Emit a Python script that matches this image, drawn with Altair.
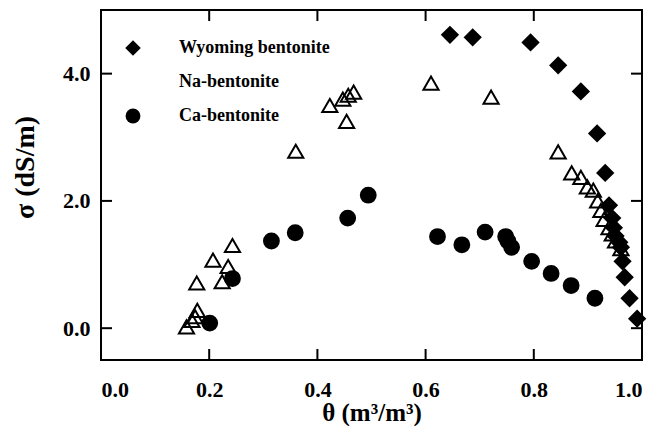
import altair as alt
import pandas as pd

series_names = ["Wyoming bentonite", "Na-bentonite", "Ca-bentonite"]

wy_theta = [0.645, 0.687, 0.794, 0.845, 0.887, 0.917, 0.932, 0.939, 0.945, 0.948,
            0.951, 0.958, 0.961, 0.964, 0.968, 0.977, 0.991]
wy_sigma = [4.61, 4.57, 4.49, 4.13, 3.72, 3.06, 2.44, 1.93, 1.73, 1.58,
            1.45, 1.35, 1.27, 1.05, 0.80, 0.47, 0.15]

na_theta = [0.158, 0.168, 0.174, 0.178, 0.177, 0.207, 0.224, 0.235, 0.243, 0.360,
            0.423, 0.447, 0.457, 0.467, 0.454, 0.610, 0.721, 0.845, 0.870, 0.887,
            0.899, 0.910, 0.918, 0.924, 0.930, 0.939, 0.945, 0.951, 0.961]
na_sigma = [0.02, 0.12, 0.18, 0.28, 0.71, 1.07, 0.73, 0.97, 1.30, 2.78,
            3.50, 3.60, 3.66, 3.71, 3.25, 3.85, 3.63, 2.77, 2.44, 2.37,
            2.22, 2.17, 2.00, 1.85, 1.71, 1.58, 1.48, 1.37, 1.25]

ca_theta = [0.201, 0.243, 0.315, 0.359, 0.456, 0.494, 0.622, 0.667, 0.710, 0.748,
            0.752, 0.759, 0.796, 0.832, 0.869, 0.913]
ca_sigma = [0.08, 0.78, 1.37, 1.50, 1.73, 2.09, 1.44, 1.31, 1.51, 1.44,
            1.37, 1.27, 1.05, 0.86, 0.67, 0.47]

x_label_values = [0.0, 0.2, 0.4, 0.6, 0.8, 1.0]
x_tick_values = [0.2, 0.4, 0.6, 0.8]
y_tick_values = [0.0, 2.0, 4.0]

rows = []
for name, xs_, ys_ in [(series_names[0], wy_theta, wy_sigma),
                       (series_names[1], na_theta, na_sigma),
                       (series_names[2], ca_theta, ca_sigma)]:
    for a, b in zip(xs_, ys_):
        rows.append({"theta": a, "sigma": b, "series": name})
df = pd.DataFrame(rows)

W, H = 541, 350
FONT = "Liberation Serif"
TICK = 11

xscale = alt.Scale(domain=[0, 1], nice=False, zero=False)
yscale = alt.Scale(domain=[-0.5, 5.0], nice=False, zero=False)

xaxis = alt.Axis(values=x_label_values, format=".1f", title="θ (m³/m³)",
                 ticks=False, tickSize=0, domain=False, grid=False,
                 labelPadding=19, labelFont=FONT, labelFontSize=22,
                 labelFontWeight="bold", labelColor="black",
                 titleFont=FONT, titleFontSize=25, titleFontWeight="bold",
                 titleColor="black", titlePadding=0)
yaxis = alt.Axis(values=y_tick_values, format=".1f", title="σ (dS/m)",
                 ticks=False, tickSize=0, domain=False, grid=False,
                 labelPadding=11, labelFont=FONT, labelFontSize=22,
                 labelFontWeight="bold", labelColor="black",
                 titleFont=FONT, titleFontSize=28, titleFontWeight="bold",
                 titleColor="black", titleAngle=-90, titleX=-76, titleY=157,
                 titleAlign="center", titleBaseline="middle")

leg = alt.Legend(orient="none", legendX=23, legendY=29, title=None, padding=0,
                 labelFont=FONT, labelFontSize=18, labelFontWeight="bold",
                 labelColor="black", labelOffset=37, rowPadding=11,
                 symbolStrokeColor="black", symbolStrokeWidth=2)

points = alt.Chart(df).mark_point(filled=True, stroke="black", strokeWidth=2,
                                  opacity=1).encode(
    x=alt.X("theta:Q", scale=xscale, axis=xaxis),
    y=alt.Y("sigma:Q", scale=yscale, axis=yaxis),
    shape=alt.Shape("series:N", scale=alt.Scale(domain=series_names,
                    range=["diamond", "triangle-up", "circle"]), legend=leg),
    fill=alt.Fill("series:N", scale=alt.Scale(domain=series_names,
                  range=["black", "transparent", "black"]), legend=leg),
    size=alt.Size("series:N", scale=alt.Scale(domain=series_names,
                  range=[240, 220, 200]), legend=leg),
)

xt = pd.DataFrame({"t": x_tick_values})
yt = pd.DataFrame({"t": y_tick_values})

bottom_ticks = alt.Chart(xt).mark_rule(color="black", strokeWidth=2).encode(
    x=alt.X("t:Q", scale=xscale, axis=xaxis), y=alt.value(H), y2=alt.value(H - TICK))
top_ticks = alt.Chart(xt).mark_rule(color="black", strokeWidth=2).encode(
    x=alt.X("t:Q", scale=xscale, axis=xaxis), y=alt.value(0), y2=alt.value(TICK))
left_ticks = alt.Chart(yt).mark_rule(color="black", strokeWidth=2).encode(
    y=alt.Y("t:Q", scale=yscale, axis=yaxis), x=alt.value(0), x2=alt.value(TICK))
right_ticks = alt.Chart(yt).mark_rule(color="black", strokeWidth=2).encode(
    y=alt.Y("t:Q", scale=yscale, axis=yaxis), x=alt.value(W), x2=alt.value(W - TICK))

chart = alt.layer(bottom_ticks, top_ticks, left_ticks, right_ticks, points).properties(
    width=W, height=H,
    autosize=alt.AutoSizeParams(type="none"),
    padding={"left": 93, "top": 2, "right": 8, "bottom": 66},
    background="white",
).configure_view(stroke="black", strokeWidth=2)

chart.save("out.html", embed_options={"renderer": "svg", "actions": False})
